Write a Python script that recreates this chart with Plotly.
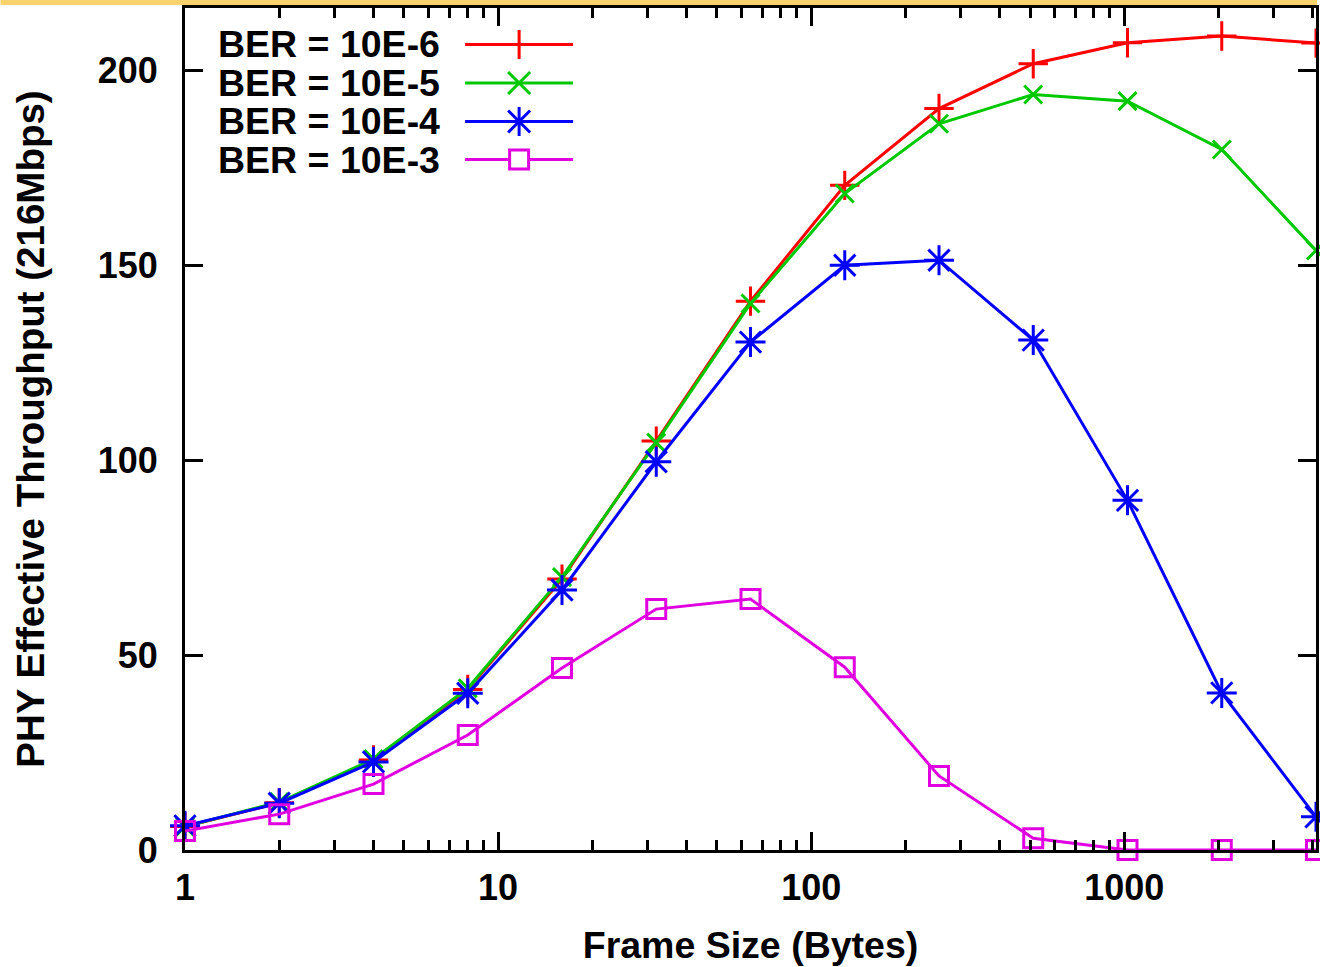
import math
import plotly.graph_objects as go

# ---- data ----
frame_sizes = [1, 2, 4, 8, 16, 32, 64, 128, 256, 512, 1024, 2048, 4096]
ber_1e6 = [6.0, 12.1, 23.1, 41.2, 69.5, 104.9, 140.8, 170.5, 190.2, 201.7, 207.1, 208.8, 207.0]
ber_1e5 = [6.0, 12.3, 23.3, 41.5, 70.0, 104.5, 140.2, 168.4, 186.3, 193.8, 192.1, 179.7, 153.8]
ber_1e4 = [6.2, 12.0, 22.6, 40.2, 66.7, 99.6, 130.3, 150.0, 151.3, 130.8, 89.7, 40.3, 8.5]
ber_1e3 = [4.9, 9.2, 16.9, 29.5, 46.7, 61.8, 64.4, 46.9, 19.0, 3.0, 0.0, 0.0, 0.0]

series_names = ["BER = 10E-6", "BER = 10E-5", "BER = 10E-4", "BER = 10E-3"]
x_tick_vals = [1, 10, 100, 1000]
x_tick_text = ["1", "10", "100", "1000"]
x_minor_vals = [m * d for d in (1, 10, 100, 1000) for m in range(2, 10) if m * d <= 4096]
y_tick_vals = [0, 50, 100, 150, 200]
y_tick_text = ["0", "50", "100", "150", "200"]

# ---- styling ----
W, H = 1320, 967
ML, MR, MT, MB = 185, 1, 8, 117
PW, PH = W - ML - MR, H - MT - MB
FONT = "Liberation Sans"
BLACK = "#000000"
colors = ["#ff0000", "#00c800", "#0000ff", "#e000e0"]
symbols = ["cross-thin-open", "x-thin-open", "asterisk-open", "square-open"]
sizes = [21, 18, 25, 19]
series = [ber_1e6, ber_1e5, ber_1e4, ber_1e3]

fig = go.Figure()
for name, vals, col, sym, sz in zip(series_names, series, colors, symbols, sizes):
    fig.add_trace(go.Scatter(
        x=frame_sizes, y=vals, name=name, mode="lines+markers",
        line=dict(color=col, width=3),
        marker=dict(symbol=sym, size=sz, color=col, line=dict(color=col, width=3)),
        cliponaxis=False, showlegend=False,
    ))

tick_font = dict(family=FONT, size=36, color=BLACK, weight=700)
label_font = dict(family=FONT, size=37.5, color=BLACK, weight=700)
ytitle_font = dict(family=FONT, size=38.5, color=BLACK, weight=700)

axis_common = dict(
    showline=True, linewidth=3, linecolor=BLACK, mirror="ticks",
    ticks="inside", ticklen=18, tickwidth=3, tickcolor=BLACK,
    showgrid=False, zeroline=False, tickfont=tick_font,
)

fig.update_layout(
    width=W, height=H,
    margin=dict(l=ML, r=MR, t=MT, b=MB, pad=0),
    paper_bgcolor="white", plot_bgcolor="white",
    showlegend=False,
    xaxis=dict(
        type="log", range=[0, math.log10(4096)],
        tickvals=x_tick_vals, ticktext=x_tick_text,
        minor=dict(tickvals=x_minor_vals, ticks="inside", ticklen=10,
                   tickwidth=3, tickcolor=BLACK, showgrid=False),
        title=dict(text="Frame Size (Bytes)", font=label_font, standoff=25),
        ticklabelstandoff=4,
        **axis_common,
    ),
    yaxis=dict(
        range=[0, 216], tickvals=y_tick_vals, ticktext=y_tick_text,
        title=dict(text="PHY Effective Throughput (216Mbps)", font=ytitle_font, standoff=42),
        ticklabelstandoff=17,
        **axis_common,
    ),
)

# ---- custom key (text left, sample right, as in the original) ----
def px_to_paper_x(px):
    return (px - ML) / PW

def px_to_paper_y(py):
    return (H - MB - py) / PH

key_text_right = 443
key_sym_x = 520
key_half_len = 54
row_y = [44.5, 83.0, 121.5, 159.5]

def glyph_paths(sym):
    if sym.startswith("cross"):
        a = 14.5
        return [f"M0,{-a} L0,{a}", f"M{-a},0 L{a},0"]
    if sym.startswith("x"):
        a = 11
        return [f"M{-a},{-a} L{a},{a}", f"M{-a},{a} L{a},{-a}"]
    if sym.startswith("asterisk"):
        a, d = 14.5, 11
        return [f"M0,{-a} L0,{a}", f"M{-a+1},0 L{a-1},0",
                f"M{-d},{-d} L{d},{d}", f"M{-d},{d} L{d},{-d}"]
    s = 9.5
    return [f"M{-s},{-s} L{s},{-s} L{s},{s} L{-s},{s} Z"]

for name, col, sym, ry in zip(series_names, colors, symbols, row_y):
    xa, ya = px_to_paper_x(key_sym_x), px_to_paper_y(ry)
    fig.add_shape(type="line", xref="paper", yref="paper",
                  xsizemode="pixel", ysizemode="pixel", xanchor=xa, yanchor=ya,
                  x0=-key_half_len, x1=key_half_len, y0=0, y1=0,
                  line=dict(color=col, width=3))
    for p in glyph_paths(sym):
        fig.add_shape(type="path", xref="paper", yref="paper",
                      xsizemode="pixel", ysizemode="pixel", xanchor=xa, yanchor=ya,
                      path=p, line=dict(color=col, width=3),
                      fillcolor="white" if p.endswith("Z") else None)
    fig.add_annotation(text=name, xref="paper", yref="paper",
                       x=px_to_paper_x(key_text_right), y=ya,
                       xanchor="right", yanchor="middle", showarrow=False,
                       font=label_font)

# thin yellow band along the top edge of the original image
fig.add_shape(type="rect", xref="paper", yref="paper", layer="below",
              x0=px_to_paper_x(0), x1=px_to_paper_x(W),
              y0=px_to_paper_y(5), y1=px_to_paper_y(0),
              fillcolor="rgba(246,196,60,0.75)", line=dict(width=0))

fig.write_html("out.html",
               config={"displayModeBar": False},
               post_script="document.body.style.margin='0';document.body.style.overflow='hidden';")
